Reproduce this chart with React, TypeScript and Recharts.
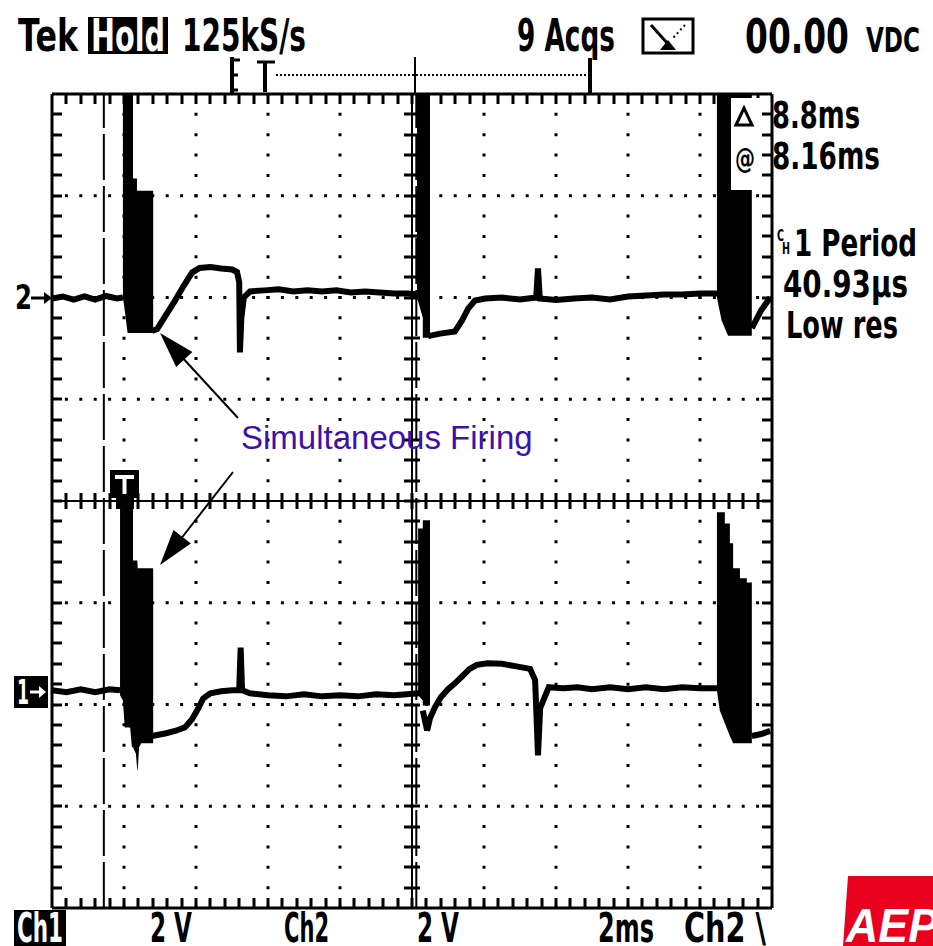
import { Area, ComposedChart, Line, ReferenceLine, XAxis, YAxis } from 'recharts';

// screen: 10 div x 2 ms, 8 div x 2 V
const W = 933;
const H = 946;
const MARGIN = { top: 94, right: 161, bottom: 38, left: 52 };
const PLOT_L = MARGIN.left;
const PLOT_R = W - MARGIN.right;
const PLOT_T = MARGIN.top;
const PLOT_B = H - MARGIN.bottom;
const PX_PER_DIV_Y = (PLOT_B - PLOT_T) / 8;
const PX_PER_MS = (PLOT_R - PLOT_L) / 20;
const VOLTS_PER_DIV = 2;
const CH1_GROUND_DIV = -1.86;
const CH2_GROUND_DIV = 2.0;

const gridTimes = [2, 4, 6, 8, 12, 14, 16, 18];
const gridDivs = [-3, -2, -1, 1, 2, 3];
const cursorTimes = [1.44, 10.12];

type P = [number, number];
type R = [number, number, number];

// Ch2 (upper trace), volts vs ms
const ch2Start: P[] = [
  [0, -0.02], [0.3, 0.02], [0.6, -0.04], [0.9, 0.02], [1.2, -0.04], [1.5, 0.03], [1.8, -0.02], [1.97, 0],
];
const ch2Burst1: R[] = [
  [1.97, 0, 4], [2.03, -0.3, 4], [2.1, -0.7, 4], [2.25, -0.7, 4], [2.25, -0.7, 2.34],
  [2.36, -0.7, 2.34], [2.36, -0.7, 2.1], [2.81, -0.7, 2.1],
];
const ch2Recover1: P[] = [
  [2.78, -0.66], [2.92, -0.62], [3.15, -0.36], [3.4, -0.08], [3.65, 0.22], [3.89, 0.49], [4.1, 0.58],
  [4.4, 0.6], [4.7, 0.57], [5.0, 0.55], [5.14, 0.5], [5.2, 0.3], [5.22, -1.08], [5.26, -0.4], [5.33, 0.0],
  [5.5, 0.12], [5.9, 0.14], [6.3, 0.16], [6.7, 0.12], [7.1, 0.14], [7.5, 0.12], [7.9, 0.14], [8.3, 0.1],
  [8.7, 0.12], [9.1, 0.1], [9.5, 0.08], [9.9, 0.08], [10.17, 0.06],
];
const ch2Burst2: R[] = [
  [10.14, 0, 4], [10.3, -0.4, 4], [10.3, -0.79, 4], [10.5, -0.79, 4],
];
const ch2Recover2: P[] = [
  [10.45, -0.76], [10.78, -0.71], [11.19, -0.67], [11.39, -0.45], [11.56, -0.22], [11.75, -0.06],
  [12.03, -0.02], [12.5, 0], [13.0, -0.04], [13.45, 0], [13.5, 0.57], [13.55, -0.02], [14, -0.05],
  [14.5, -0.02], [15, 0], [15.5, -0.04], [16, 0.02], [16.5, 0.04], [17, 0.06], [17.5, 0.06], [18, 0.08],
  [18.5, 0.08],
];
const ch2Burst3: R[] = [
  [18.47, 0, 4], [18.6, -0.45, 4], [18.78, -0.75, 4], [19.44, -0.75, 4],
];
const ch2Tail: P[] = [
  [19.44, -0.6], [19.7, -0.25], [19.95, 0.0],
];

// Ch1 (lower trace), volts vs ms
const ch1Start: P[] = [
  [0, 0], [0.4, -0.04], [0.8, 0.02], [1.2, -0.04], [1.6, 0.02], [1.89, 0],
];
const ch1Burst1: R[] = [
  [1.89, -0.1, 3.73], [1.97, -0.2, 3.73], [2.02, -0.73, 3.73], [2.17, -0.73, 3.73], [2.22, -1.12, 3.73],
  [2.25, -1.12, 3.73], [2.25, -1.12, 2.55], [2.33, -1.25, 2.55], [2.37, -1.57, 2.55], [2.38, -1.57, 2.4],
  [2.42, -1.12, 2.4], [2.48, -1.04, 2.4], [2.81, -1.04, 2.4],
];
const ch1Recover1: P[] = [
  [2.78, -0.9], [3.14, -0.85], [3.42, -0.8], [3.69, -0.73], [3.89, -0.57], [4.06, -0.36], [4.2, -0.16],
  [4.4, -0.06], [4.7, -0.02], [5.0, 0.0], [5.2, 0.0], [5.24, 0.84], [5.28, 0.0], [5.5, -0.06], [6, -0.1],
  [6.5, -0.12], [7, -0.08], [7.5, -0.12], [8, -0.1], [8.5, -0.12], [9, -0.08], [9.5, -0.1], [10.2, -0.06],
];
const ch1Burst2: R[] = [
  [10.17, -0.1, 3.18], [10.3, -0.2, 3.18], [10.3, -0.3, 3.34], [10.5, -0.3, 3.34],
];
const ch1Recover2: P[] = [
  [10.3, -0.4], [10.42, -0.79], [10.5, -0.55], [10.64, -0.33], [10.8, -0.14], [11.0, 0.02], [11.2, 0.14],
  [11.4, 0.28], [11.6, 0.42], [11.8, 0.5], [12.1, 0.53], [12.5, 0.52], [12.9, 0.47], [13.28, 0.42],
  [13.42, 0.2], [13.5, -1.28], [13.56, -0.35], [13.8, 0.06], [14.2, 0.04], [14.6, 0.06], [15, 0.02],
  [15.5, 0.06], [16, 0.02], [16.5, 0.06], [17, 0.02], [17.5, 0.06], [18.0, 0.04], [18.5, 0.04],
];
const ch1Burst3: R[] = [
  [18.47, 0, 3.5], [18.55, -0.4, 3.5], [18.69, -0.65, 3.5], [18.69, -0.65, 3.28], [18.83, -0.9, 3.28],
  [18.83, -0.9, 2.89], [18.92, -1.04, 2.89], [18.92, -1.04, 2.4], [19.11, -1.04, 2.4], [19.11, -1.04, 2.2],
  [19.3, -1.04, 2.2], [19.3, -1.04, 2.12], [19.44, -1.04, 2.12],
];
const ch1Tail: P[] = [
  [19.44, -0.9], [19.7, -0.86], [19.95, -0.8],
];

const toLine = (pts: P[]) => pts.map(([t, v]) => ({ t, v }));
const toRange = (pts: R[]) => pts.map(([t, lo, hi]) => ({ t, r: [lo, hi] }));

const chDomain = (groundDiv: number): [number, number] => [
  (-4 - groundDiv) * VOLTS_PER_DIV,
  (4 - groundDiv) * VOLTS_PER_DIV,
];
// graticule lines are placed on the ch2 axis, expressed in screen divisions
const div = (d: number) => (d - CH2_GROUND_DIV) * VOLTS_PER_DIV;

const ch2Lines = [ch2Start, ch2Recover1, ch2Recover2, ch2Tail];
const ch2Bursts = [ch2Burst1, ch2Burst2, ch2Burst3];
const ch1Lines = [ch1Start, ch1Recover1, ch1Recover2, ch1Tail];
const ch1Bursts = [ch1Burst1, ch1Burst2, ch1Burst3];

const FONT = '"DejaVu Sans", sans-serif';
const dashX = `3 ${PX_PER_MS * 0.4 - 3}`;
const dashY = `3 ${PX_PER_DIV_Y / 5 - 3}`;

// minor tick marks (5 per division) on border and center cross
const CX = (PLOT_L + PLOT_R) / 2;
const CY = (PLOT_T + PLOT_B) / 2;
const tickSegs: string[] = [];
for (let i = 1; i < 50; i++) {
  const x = Math.round(PLOT_L + i * PX_PER_MS * 0.4);
  tickSegs.push(`M ${x} ${PLOT_T} L ${x} ${PLOT_T + 10}`);
  tickSegs.push(`M ${x} ${PLOT_B - 10} L ${x} ${PLOT_B}`);
  tickSegs.push(`M ${x} ${CY - 8} L ${x} ${CY + 8}`);
}
for (let i = 1; i < 40; i++) {
  const y = Math.round(PLOT_T + (i * PX_PER_DIV_Y) / 5);
  tickSegs.push(`M ${PLOT_L} ${y} L ${PLOT_L + 10} ${y}`);
  tickSegs.push(`M ${PLOT_R - 10} ${y} L ${PLOT_R} ${y}`);
  tickSegs.push(`M ${CX - 8} ${y} L ${CX + 8} ${y}`);
}
const tickPath = tickSegs.join(' ');

const Txt = (props: any) => (
  <text fontFamily={FONT} fontWeight="bold" lengthAdjust="spacingAndGlyphs" {...props} />
);

function Overlay() {
  return (
    <svg
      width={W}
      height={H}
      viewBox={`0 0 ${W} ${H}`}
      style={{ position: 'absolute', left: 0, top: 0, pointerEvents: 'none' }}
    >
      {/* graticule minor ticks */}
      <path d={tickPath} stroke="#000" strokeWidth={3} fill="none" />

      {/* header */}
      <Txt x={18} y={51} fontSize={44} textLength={60}>Tek</Txt>
      <rect x={88} y={17} width={80} height={37} fill="#000" />
      <Txt x={91} y={51} fontSize={44} textLength={74} fill="#fff">Hold</Txt>
      <Txt x={182} y={51} fontSize={44} textLength={124}>125kS/s</Txt>
      <Txt x={517} y={51} fontSize={44} textLength={98}>9 Acqs</Txt>
      <rect x={643} y={19} width={50} height={34} fill="none" stroke="#000" strokeWidth={3} />
      <line x1={651} y1={25} x2={668} y2={44} stroke="#000" strokeWidth={3} />
      <line x1={685} y1={25} x2={673} y2={38} stroke="#000" strokeWidth={2} strokeDasharray="2 3" />
      <polygon points="660,50 668,40 676,50" fill="#000" />
      <Txt x={745} y={53} fontSize={48} textLength={104}>00.00</Txt>
      <Txt x={866} y={52} fontSize={34} textLength={54}>VDC</Txt>

      {/* trigger position bar */}
      <line x1={232} y1={57} x2={232} y2={94} stroke="#000" strokeWidth={4} />
      <line x1={232} y1={60} x2={240} y2={60} stroke="#000" strokeWidth={3} />
      <line x1={232} y1={75} x2={238} y2={75} stroke="#000" strokeWidth={3} />
      <line x1={232} y1={90} x2={238} y2={90} stroke="#000" strokeWidth={3} />
      <line x1={257} y1={62} x2={275} y2={62} stroke="#000" strokeWidth={3} />
      <line x1={265} y1={62} x2={265} y2={92} stroke="#000" strokeWidth={4} />
      <line x1={276} y1={75} x2={589} y2={75} stroke="#000" strokeWidth={2} strokeDasharray="2 2" />
      <line x1={415} y1={57} x2={415} y2={94} stroke="#000" strokeWidth={2} />
      <line x1={590} y1={58} x2={590} y2={94} stroke="#000" strokeWidth={4} />

      {/* ground markers */}
      <Txt x={15} y={309} fontSize={34} textLength={17}>2</Txt>
      <line x1={31} y1={298} x2={50} y2={298} stroke="#000" strokeWidth={3} />
      <polygon points="52,298 44,292 44,304" fill="#000" />
      <rect x={14} y={676} width={34} height={32} fill="#000" />
      <Txt x={17} y={704} fontSize={34} textLength={12} fill="#fff">1</Txt>
      <line x1={30} y1={692} x2={42} y2={692} stroke="#fff" strokeWidth={3} />
      <polygon points="46,692 39,686 39,698" fill="#fff" />

      {/* trigger level marker */}
      <rect x={110} y={470} width={29} height={28} fill="#000" />
      <rect x={116} y={497} width={18} height={12} fill="#000" />
      <line x1={115} y1={477} x2={134} y2={477} stroke="#fff" strokeWidth={4} />
      <line x1={124.5} y1={477} x2={124.5} y2={494} stroke="#fff" strokeWidth={4} />

      {/* cursor readouts */}
      <rect x={731} y={98} width={30} height={92} fill="#fff" />
      <polygon points="736,125 744,108 752,125" fill="none" stroke="#000" strokeWidth={3} />
      <Txt x={735} y={168} fontSize={28} textLength={20}>@</Txt>
      <Txt x={772} y={128} fontSize={38} textLength={88}>8.8ms</Txt>
      <Txt x={772} y={169} fontSize={38} textLength={108}>8.16ms</Txt>
      <Txt x={777} y={241} fontSize={15} textLength={7}>C</Txt>
      <Txt x={782} y={254} fontSize={15} textLength={8}>H</Txt>
      <Txt x={794} y={256} fontSize={38} textLength={123}>1 Period</Txt>
      <Txt x={783} y={297} fontSize={38} textLength={125}>40.93µs</Txt>
      <Txt x={786} y={338} fontSize={38} textLength={112}>Low res</Txt>

      {/* bottom status line */}
      <rect x={14} y={910} width={52} height={36} fill="#000" />
      <Txt x={17} y={942} fontSize={40} textLength={46} fill="#fff">Ch1</Txt>
      <Txt x={150} y={942} fontSize={40} textLength={42}>2 V</Txt>
      <Txt x={284} y={942} fontSize={40} textLength={45}>Ch2</Txt>
      <Txt x={417} y={942} fontSize={40} textLength={42}>2 V</Txt>
      <Txt x={598} y={942} fontSize={40} textLength={56}>2ms</Txt>
      <Txt x={684} y={942} fontSize={40} textLength={82}>Ch2 \</Txt>

      {/* annotation */}
      <text x={241} y={449} fontFamily='"Liberation Sans", Arial, sans-serif' fontSize={33} fill="#3d12a6">
        Simultaneous Firing
      </text>
      <line x1={238} y1={418} x2={180} y2={355} stroke="#000" strokeWidth={2} />
      <polygon points="160,333 176.2,366.9 192.4,352.1" fill="#000" />
      <line x1={233} y1={472} x2={180} y2={540} stroke="#000" strokeWidth={2} />
      <polygon points="160,565 190.9,543.5 173.5,529.9" fill="#000" />

      {/* logo */}
      <polygon points="848,876 933,876 933,946 843,946" fill="#e8001e" />
      <text
        x={846}
        y={942}
        fontFamily='"Liberation Sans", Arial, sans-serif'
        fontWeight="bold"
        fontStyle="italic"
        fontSize={48}
        fill="#fff"
        textLength={92}
        lengthAdjust="spacingAndGlyphs"
      >
        AEP
      </text>
    </svg>
  );
}

export default function App() {
  return (
    <div style={{ position: 'absolute', left: 0, top: 0, width: W, height: H, background: '#fff' }}>
      <ComposedChart width={W} height={H} margin={MARGIN}>
        <XAxis dataKey="t" type="number" domain={[0, 20]} hide allowDataOverflow />
        <YAxis yAxisId="ch1" type="number" domain={chDomain(CH1_GROUND_DIV)} hide allowDataOverflow />
        <YAxis yAxisId="ch2" type="number" domain={chDomain(CH2_GROUND_DIV)} hide allowDataOverflow />

        {gridTimes.map((t) => (
          <ReferenceLine key={`gx${t}`} x={t} yAxisId="ch2" stroke="#000" strokeWidth={3}
            strokeDasharray={dashY} strokeDashoffset={1.5} />
        ))}
        {gridDivs.map((d) => (
          <ReferenceLine key={`gy${d}`} y={div(d)} yAxisId="ch2" stroke="#000" strokeWidth={3}
            strokeDasharray={dashX} strokeDashoffset={1.5} />
        ))}

        {/* center cross and border */}
        <ReferenceLine y={div(0)} yAxisId="ch2" stroke="#000" strokeWidth={2} />
        <ReferenceLine x={10} yAxisId="ch2" stroke="#000" strokeWidth={2} />
        <ReferenceLine y={div(4)} yAxisId="ch2" stroke="#000" strokeWidth={3} />
        <ReferenceLine y={div(-4)} yAxisId="ch2" stroke="#000" strokeWidth={3} />
        <ReferenceLine x={0} yAxisId="ch2" stroke="#000" strokeWidth={3} />
        <ReferenceLine x={20} yAxisId="ch2" stroke="#000" strokeWidth={3} />

        {cursorTimes.map((t) => (
          <ReferenceLine key={`c${t}`} x={t} yAxisId="ch2" stroke="#000" strokeWidth={2} strokeDasharray="46 6" />
        ))}

        {ch2Bursts.map((b, i) => (
          <Area key={`b2${i}`} yAxisId="ch2" data={toRange(b)} dataKey="r" type="linear"
            stroke="none" fill="#000" fillOpacity={1} isAnimationActive={false} />
        ))}
        {ch1Bursts.map((b, i) => (
          <Area key={`b1${i}`} yAxisId="ch1" data={toRange(b)} dataKey="r" type="linear"
            stroke="none" fill="#000" fillOpacity={1} isAnimationActive={false} />
        ))}
        {ch2Lines.map((l, i) => (
          <Line key={`l2${i}`} yAxisId="ch2" data={toLine(l)} dataKey="v" type="linear"
            stroke="#000" strokeWidth={6} dot={false} isAnimationActive={false} />
        ))}
        {ch1Lines.map((l, i) => (
          <Line key={`l1${i}`} yAxisId="ch1" data={toLine(l)} dataKey="v" type="linear"
            stroke="#000" strokeWidth={6} dot={false} isAnimationActive={false} />
        ))}
      </ComposedChart>
      <Overlay />
    </div>
  );
}
